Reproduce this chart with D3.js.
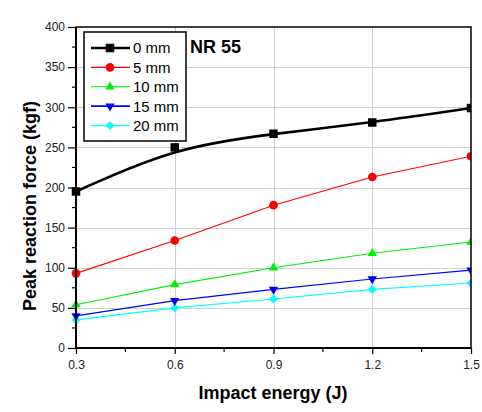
<!DOCTYPE html>
<html>
<head>
<meta charset="utf-8">
<script src="https://cdn.jsdelivr.net/npm/d3@7"></script>
<style>
  html, body { margin: 0; padding: 0; background: #fff; }
  svg { display: block; font-family: "Liberation Sans", Arial, sans-serif; }
</style>
</head>
<body>
<svg id="chart" width="482" height="412"></svg>
<script>
// Impact energy (J) on the x axis
const energy = [0.3, 0.6, 0.9, 1.2, 1.5];
// Peak reaction force (kgf) for each thickness
const force0mm  = [195, 250, 267, 281, 299];
const force5mm  = [93, 134, 178, 213, 239];
const force10mm = [54, 79, 100, 118, 132];
const force15mm = [40, 59, 73, 86, 97];
const force20mm = [35, 50, 61, 73, 81];
const seriesNames = ["0 mm", "5 mm", "10 mm", "15 mm", "20 mm"];
const xTicks = [0.3, 0.6, 0.9, 1.2, 1.5];
const xMinorTicks = [0.45, 0.75, 1.05, 1.35];
const yTicks = [0, 50, 100, 150, 200, 250, 300, 350, 400];
const yMinorTicks = [25, 75, 125, 175, 225, 275, 325, 375];

const svg = d3.select("#chart");
const plotLeft = 76, plotRight = 471, plotTop = 27, plotBottom = 348;

const x = d3.scaleLinear().domain([0.3, 1.5]).range([plotLeft, plotRight]);
const y = d3.scaleLinear().domain([0, 400]).range([plotBottom, plotTop]);

const series = [
  { name: seriesNames[0], values: force0mm,  color: "#000000", width: 2.6, symbol: d3.symbolSquare,   size: 72, rot: 0,   curve: d3.curveBasis },
  { name: seriesNames[1], values: force5mm,  color: "#ff0000", width: 1.1, symbol: d3.symbolCircle,   size: 58, rot: 0,   curve: d3.curveLinear },
  { name: seriesNames[2], values: force10mm, color: "#00ee00", width: 1.1, symbol: d3.symbolTriangle, size: 38, rot: 0,   curve: d3.curveLinear },
  { name: seriesNames[3], values: force15mm, color: "#0000ff", width: 1.1, symbol: d3.symbolTriangle, size: 38, rot: 180, curve: d3.curveLinear },
  { name: seriesNames[4], values: force20mm, color: "#00ffff", width: 1.1, symbol: d3.symbolSquare,   size: 40, rot: 45,  curve: d3.curveLinear }
];

// grid
const grid = svg.append("g").attr("stroke", "#cfcfcf").attr("stroke-width", 1);
grid.selectAll(".gy").data(yTicks.filter(v => v > 0 && v < 400)).join("line")
  .attr("x1", plotLeft).attr("x2", plotRight)
  .attr("y1", d => Math.round(y(d)) + 0.5).attr("y2", d => Math.round(y(d)) + 0.5);
grid.selectAll(".gx").data(xTicks.filter(v => v > 0.3 && v < 1.5)).join("line")
  .attr("y1", plotTop).attr("y2", plotBottom)
  .attr("x1", d => Math.round(x(d)) + 0.5).attr("x2", d => Math.round(x(d)) + 0.5);

// axes
const yAxis = d3.axisLeft(y).tickValues(yTicks).tickSize(8).tickPadding(3).tickFormat(d3.format("d"));
const gy = svg.append("g").attr("transform", `translate(${plotLeft},0)`).call(yAxis);
const xAxis = d3.axisBottom(x).tickValues(xTicks).tickSize(6).tickPadding(6).tickFormat(d3.format(".1f"));
const gx = svg.append("g").attr("transform", `translate(0,${plotBottom})`).call(xAxis);
[gx, gy].forEach(g => {
  g.select(".domain").remove();
  g.selectAll(".tick line").attr("stroke", "#000").attr("stroke-width", 1.2);
  g.selectAll(".tick text").attr("fill", "#222").style("font-size", "12px")
    .style("font-family", "'Liberation Sans', Arial, sans-serif");
});

// minor ticks
svg.append("g").selectAll("line").data(yMinorTicks).join("line")
  .attr("x1", plotLeft - 4).attr("x2", plotLeft)
  .attr("y1", d => y(d)).attr("y2", d => y(d))
  .attr("stroke", "#000").attr("stroke-width", 1.2);
svg.append("g").selectAll("line").data(xMinorTicks).join("line")
  .attr("y1", plotBottom).attr("y2", plotBottom + 4)
  .attr("x1", d => x(d)).attr("x2", d => x(d))
  .attr("stroke", "#000").attr("stroke-width", 1.2);

// series lines and markers, cut at the right edge of the frame
svg.append("clipPath").attr("id", "plotclip")
  .append("rect").attr("x", 0).attr("y", 0).attr("width", plotRight).attr("height", 412);

const plot = svg.append("g").attr("clip-path", "url(#plotclip)");
series.slice().reverse().forEach(s => {
  const pts = energy.map((e, i) => [e, s.values[i]]);
  const line = d3.line().x(d => x(d[0])).y(d => y(d[1])).curve(s.curve);
  plot.append("path").datum(pts)
    .attr("d", line).attr("fill", "none")
    .attr("stroke", s.color).attr("stroke-width", s.width)
    .attr("stroke-linejoin", "round");
  plot.selectAll(null).data(pts).join("path")
    .attr("d", d3.symbol(s.symbol, s.size))
    .attr("transform", d => `translate(${x(d[0])},${y(d[1])}) rotate(${s.rot})`)
    .attr("fill", s.color);
});

// frame
svg.append("rect").attr("x", plotLeft).attr("y", plotTop)
  .attr("width", plotRight - plotLeft).attr("height", plotBottom - plotTop)
  .attr("fill", "none").attr("stroke", "#000").attr("stroke-width", 1.5);
svg.append("line").attr("x1", plotLeft).attr("x2", plotLeft).attr("y1", plotTop).attr("y2", plotBottom + 0.75)
  .attr("stroke", "#000").attr("stroke-width", 2);
svg.append("line").attr("x1", plotLeft - 1).attr("x2", plotRight).attr("y1", plotBottom).attr("y2", plotBottom)
  .attr("stroke", "#000").attr("stroke-width", 2);

// legend
const lg = svg.append("g");
lg.append("rect").attr("x", 84).attr("y", 32).attr("width", 102).attr("height", 109)
  .attr("fill", "#fff").attr("stroke", "#000").attr("stroke-width", 1.5);
series.forEach((s, i) => {
  const cy = 48 + i * 19.4;
  lg.append("line").attr("x1", 91).attr("x2", 130).attr("y1", cy).attr("y2", cy)
    .attr("stroke", s.color).attr("stroke-width", i === 0 ? 2.6 : (i === 3 ? 1.8 : 1.1));
  lg.append("path").attr("d", d3.symbol(s.symbol, s.size))
    .attr("transform", `translate(110,${cy}) rotate(${s.rot})`).attr("fill", s.color);
  lg.append("text").attr("x", 133).attr("y", cy + 5.3)
    .style("font-size", "15px").attr("fill", "#000").text(s.name);
});

// annotation
svg.append("text").attr("x", 190).attr("y", 53)
  .style("font-size", "18px").style("font-weight", "bold").text("NR 55");

// axis titles
svg.append("text").attr("x", (plotLeft + plotRight) / 2 - 0.5).attr("y", 399)
  .attr("text-anchor", "middle").style("font-size", "18px").style("font-weight", "bold")
  .text("Impact energy (J)");
svg.append("text").attr("transform", "translate(35.5,206) rotate(-90)")
  .attr("text-anchor", "middle").style("font-size", "18px").style("font-weight", "bold")
  .text("Peak reaction force (kgf)");
</script>
</body>
</html>
